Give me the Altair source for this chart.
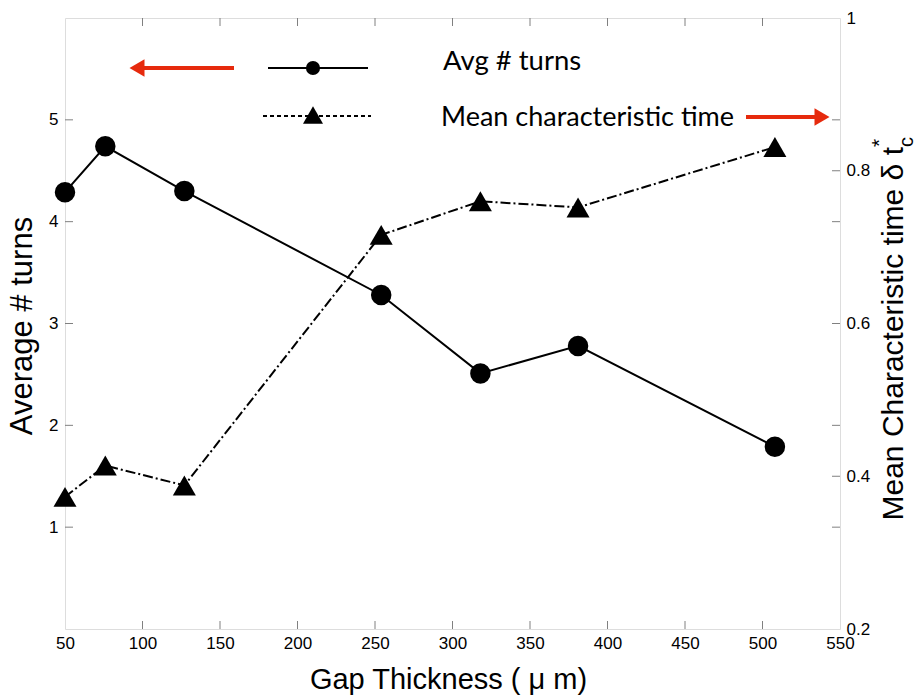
import altair as alt
import pandas as pd

# ---- data ----
gap = [50, 76, 127, 254, 318, 381, 508]
avg_turns = [4.29, 4.74, 4.30, 3.28, 2.51, 2.78, 1.79]
mean_time = [0.373, 0.414, 0.388, 0.716, 0.760, 0.752, 0.831]

x_ticks = [50, 100, 150, 200, 250, 300, 350, 400, 450, 500, 550]
x_inner_ticks = [100, 150, 200, 250, 300, 350, 400, 450, 500]
left_ticks = [1, 2, 3, 4, 5]
right_ticks = [0.2, 0.4, 0.6, 0.8, 1.0]
right_inner_ticks = [0.4, 0.6, 0.8]

x_title = "Gap Thickness ( μ m)"
yl_title = "Average # turns"
yr_title = "Mean Characteristic time δ t"
legend_labels = ["Avg # turns", "Mean characteristic time"]

W, H = 775, 611
AXC = "#808080"
RED = "#E62A0D"
FONT = "Liberation Sans"

df = pd.DataFrame({"gap": gap, "avg": avg_turns, "tc": mean_time})
one = pd.DataFrame({"a": [0]})

xscale = alt.Scale(domain=[50, 550], nice=False, zero=False)
ylscale = alt.Scale(domain=[0, 6], nice=False, zero=False)
yrscale = alt.Scale(domain=[0.2, 1.0], nice=False, zero=False)

xaxis = alt.Axis(values=x_ticks, title=x_title, domain=False, ticks=False, grid=False,
                 labelFontSize=17, labelFont=FONT, labelColor="black", labelPadding=6,
                 labelFlush=False, labelOverlap=False,
                 titleFont=FONT, titleFontSize=29, titleFontWeight="normal", titleColor="black",
                 titleX=383, titleY=59, titleBaseline="alphabetic", titleAlign="center")
ylaxis = alt.Axis(orient="left", values=left_ticks, title=yl_title, domain=False, ticks=False,
                  grid=False, labelFontSize=17, labelFont=FONT, labelColor="black", labelPadding=7,
                  titleFont=FONT, titleFontSize=31, titleFontWeight="normal", titleColor="black",
                  titleAngle=270, titleX=-43, titleY=307.5, titleBaseline="middle", titleAlign="center")
yraxis = alt.Axis(orient="right", values=right_ticks, format="~g", title=None, domain=False,
                  ticks=False, grid=False, labelFontSize=17, labelFont=FONT, labelColor="black",
                  labelPadding=6, labelOverlap=False, labelFlush=False)


def X(field):
    return alt.X(field, type="quantitative", scale=xscale, axis=xaxis)


def YL(field):
    return alt.Y(field, type="quantitative", scale=ylscale, axis=ylaxis)


def YR(field):
    return alt.Y(field, type="quantitative", scale=yrscale, axis=yraxis)


base = alt.Chart(df)

# left series
avg_line = base.mark_line(color="black", strokeWidth=2).encode(x=X("gap"), y=YL("avg"))
avg_pts = base.mark_point(shape="circle", filled=True, color="black", size=420, opacity=1).encode(
    x=X("gap"), y=YL("avg"))
lt_df = pd.DataFrame({"v": left_ticks})
lt_left = alt.Chart(lt_df).mark_rule(color=AXC, strokeWidth=1).encode(
    y=YL("v"), x=alt.value(0), x2=alt.value(8))
lt_right = alt.Chart(lt_df).mark_rule(color=AXC, strokeWidth=1).encode(
    y=YL("v"), x=alt.value(W), x2=alt.value(W - 8))
xt_df = pd.DataFrame({"v": x_inner_ticks})
xt_bottom = alt.Chart(xt_df).mark_rule(color=AXC, strokeWidth=1).encode(
    x=X("v"), y=alt.value(H), y2=alt.value(H - 8))
xt_top = alt.Chart(xt_df).mark_rule(color=AXC, strokeWidth=1).encode(
    x=X("v"), y=alt.value(0), y2=alt.value(8))
left_group = alt.layer(avg_line, avg_pts, lt_left, lt_right, xt_bottom, xt_top)

# right series
tc_line = base.mark_line(color="black", strokeWidth=2, strokeDash=[10, 3, 2, 3]).encode(
    x=X("gap"), y=YR("tc"))
tc_pts = base.mark_point(shape="triangle-up", filled=True, color="black", size=530, opacity=1).encode(
    x=X("gap"), y=YR("tc"))
rt_df = pd.DataFrame({"v": right_inner_ticks})
rt = alt.Chart(rt_df).mark_rule(color=AXC, strokeWidth=1).encode(
    y=YR("v"), x=alt.value(W), x2=alt.value(W - 8))
right_group = alt.layer(tc_line, tc_pts, rt)

main = alt.layer(left_group, right_group).resolve_scale(y="independent")

# ---- legend / annotations ----
oc = alt.Chart(one)
leg = [
    # left red arrow
    oc.mark_rule(color=RED, strokeWidth=4).encode(x=alt.value(75), x2=alt.value(169), y=alt.value(50)),
    oc.mark_point(shape="triangle-left", filled=True, color=RED, size=300, opacity=1).encode(
        x=alt.value(72), y=alt.value(50)),
    # solid sample
    oc.mark_rule(color="black", strokeWidth=2).encode(x=alt.value(203), x2=alt.value(303), y=alt.value(50)),
    oc.mark_point(shape="circle", filled=True, color="black", size=200, opacity=1).encode(
        x=alt.value(248), y=alt.value(50)),
    # dashed sample
    oc.mark_rule(color="black", strokeWidth=2, strokeDash=[4, 3]).encode(
        x=alt.value(198), x2=alt.value(306), y=alt.value(98)),
    oc.mark_point(shape="triangle-up", filled=True, color="black", size=400, opacity=1).encode(
        x=alt.value(248), y=alt.value(97)),
    # texts
    oc.mark_text(font="Lato", fontSize=27.5, color="black", align="left", baseline="alphabetic").encode(
        x=alt.value(378), y=alt.value(52), text=alt.value(legend_labels[0])),
    oc.mark_text(font="Lato", fontSize=27, color="black", align="left", baseline="alphabetic").encode(
        x=alt.value(376), y=alt.value(108), text=alt.value(legend_labels[1])),
    # right red arrow
    oc.mark_rule(color=RED, strokeWidth=4).encode(x=alt.value(681), x2=alt.value(755), y=alt.value(99)),
    oc.mark_point(shape="triangle-right", filled=True, color=RED, size=300, opacity=1).encode(
        x=alt.value(757), y=alt.value(99)),
    # right axis title (rotated) with sub/superscript
    oc.mark_text(font=FONT, fontSize=30, color="black", angle=270, align="right",
                 baseline="alphabetic").encode(
        x=alt.value(838), y=alt.value(129), text=alt.value(yr_title)),
    oc.mark_text(font=FONT, fontSize=20, color="black", angle=270, align="center",
                 baseline="alphabetic").encode(
        x=alt.value(848), y=alt.value(124), text=alt.value("c")),
    oc.mark_text(font=FONT, fontSize=21, color="black", angle=270, align="center",
                 baseline="alphabetic").encode(
        x=alt.value(821), y=alt.value(125), text=alt.value("*")),
]

chart = alt.layer(main, *leg).properties(
    width=W, height=H,
    autosize=alt.AutoSizeParams(type="none"),
    padding={"left": 65, "top": 18, "right": 78, "bottom": 67},
).configure_view(stroke=AXC, strokeWidth=1).configure(background="white")

chart.save("out.html", embed_options={"renderer": "svg", "actions": False})
